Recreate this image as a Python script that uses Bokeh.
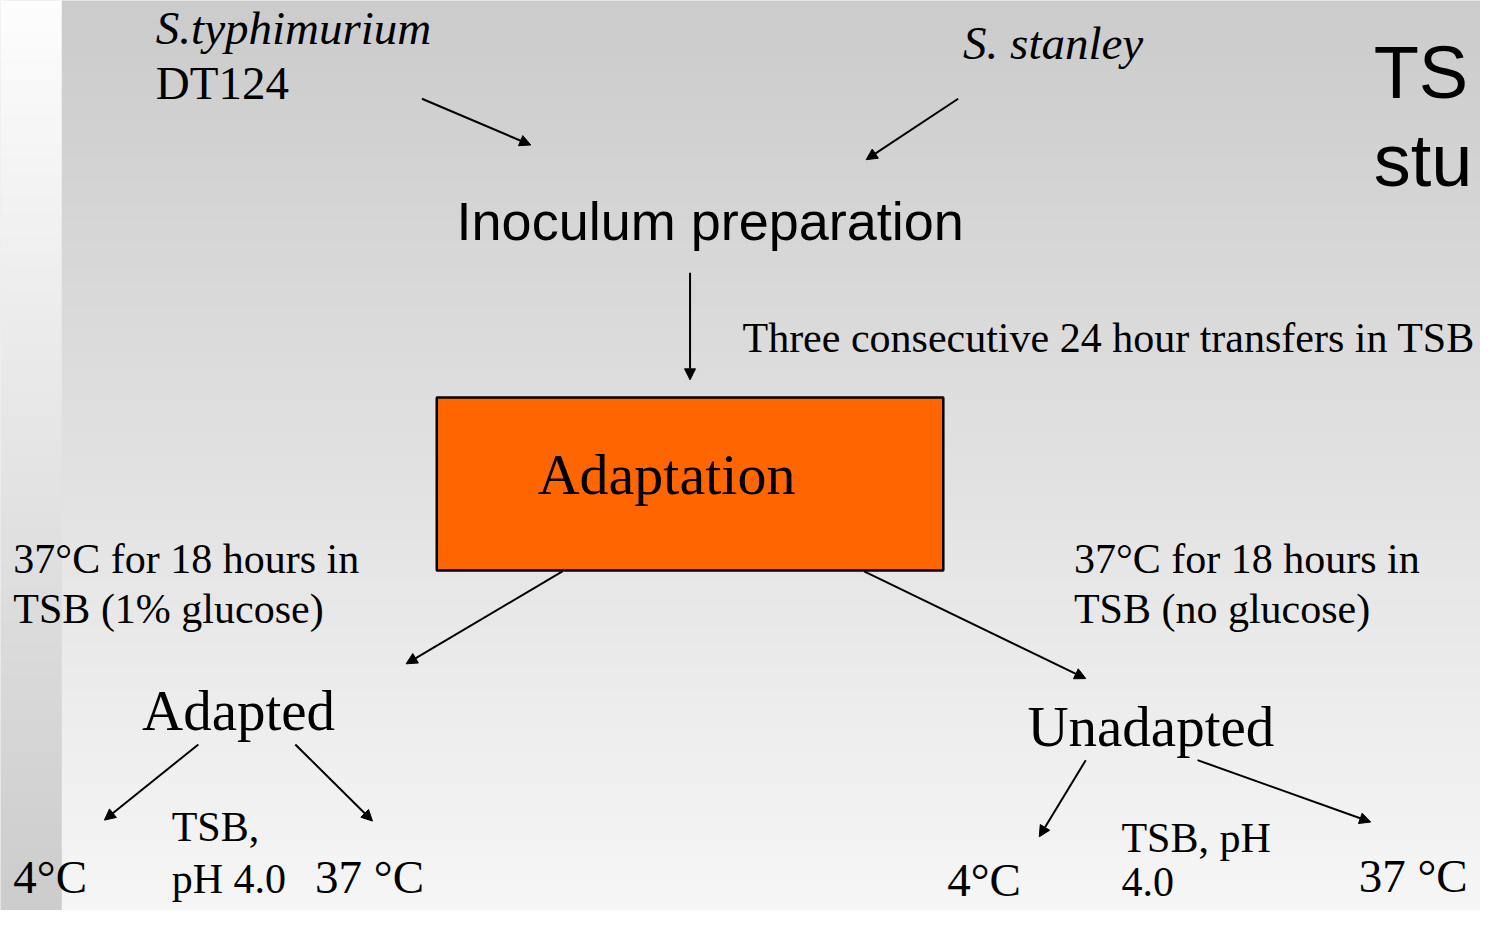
from bokeh.plotting import figure
from bokeh.models import Range1d, Arrow, NormalHead, ColumnDataSource
from bokeh.core.properties import value
from bokeh.embed import file_html
from bokeh.resources import INLINE

# ---- content -------------------------------------------------------------
species_labels = ["S.typhimurium", "S. stanley"]
strain_labels = ["DT124"]
step_labels = ["Inoculum preparation"]
box_label = ["Adaptation"]
transfer_note = ["Three consecutive 24 hour transfers in TSB"]
branch_notes_left = ["37°C for 18 hours in", "TSB (1% glucose)"]
branch_notes_right = ["37°C for 18 hours in", "TSB (no glucose)"]
group_labels = ["Adapted", "Unadapted"]
cond_adapted = ["4°C", "TSB,", "pH 4.0", "37 °C"]
cond_unadapted = ["4°C", "TSB, pH", "4.0", "37 °C"]
title_fragments = ["TS", "stu"]   # title cropped at the slide's right edge

# ---- layout (reference pixel coordinates) ---------------------------------
W, H = 1496, 926
p = figure(width=1480, height=910, x_range=Range1d(0, W), y_range=Range1d(H, 0),
           output_backend="svg", toolbar_location=None, min_border=0)
p.axis.visible = False
p.grid.visible = False
p.outline_line_color = None
p.background_fill_color = "#dddddd"
p.border_fill_color = "#ffffff"

# background gradient bands
n = 116
band = H / n
lefts, rights, tops, bottoms, cols = [], [], [], [], []
for i in range(n):
    t = (i + 0.5) / n
    y0, y1 = i * band, (i + 1) * band + 0.6
    g = int(round(253 - (253 - 204) * t))
    lefts.append(0); rights.append(62); tops.append(y0); bottoms.append(y1)
    cols.append("#%02x%02x%02x" % (g, g, g))
    g2 = int(round(203 + (246 - 203) * t))
    lefts.append(62); rights.append(W); tops.append(y0); bottoms.append(y1)
    cols.append("#%02x%02x%02x" % (g2, g2, g2))
p.quad(left=lefts, right=rights, top=tops, bottom=bottoms, fill_color=cols, line_color=None)

serif = value("Liberation Serif")
sans = value("Liberation Sans")


def txt(xs, ys, texts, size, font=serif, style="normal"):
    p.text(x=xs, y=ys, text=texts, text_font=font, text_font_size=f"{size}px",
           text_font_style=style, text_baseline="alphabetic", text_align="left",
           text_color="black", y_offset=-round(0.33 * size))


# top-right title fragments (cropped in the reference)
txt([1388, 1388], [98, 187], title_fragments, 74, font=sans)

# species
txt([157, 973], [44, 60], species_labels, 47, style="italic")
txt([157], [100], strain_labels, 47)

# inoculum preparation
txt([461], [243], step_labels, 54, font=sans)

# transfer note
txt([750], [358], transfer_note, 42)

# adaptation box
p.quad(left=[441], right=[953], top=[404], bottom=[580], fill_color="#FF6600",
       line_color="black", line_width=2.5)
txt([543], [502], box_label, 58)

# branch notes
txt([13, 13], [583, 633], branch_notes_left, 42)
txt([1085, 1085], [583, 633], branch_notes_right, 42)

# group labels
txt([143, 1038], [742, 758], group_labels, 57)

# conditions under "Adapted"
txt([13], [908], cond_adapted[0:1], 47)
txt([173, 173], [855, 908], cond_adapted[1:3], 42)
txt([318], [908], cond_adapted[3:4], 47)

# conditions under "Unadapted"
txt([957], [911], cond_unadapted[0:1], 47)
txt([1133, 1133], [866, 911], cond_unadapted[1:3], 42)
txt([1373], [907], cond_unadapted[3:4], 47)

# arrows
arrows = ColumnDataSource(dict(
    x_start=[426, 968, 697, 568, 873, 200, 298, 1097, 1210],
    y_start=[100, 100, 277, 581, 581, 757, 757, 773, 773],
    x_end=[536, 875, 697, 410, 1097, 105, 376, 1050, 1385],
    y_end=[147, 162, 386, 675, 690, 834, 835, 851, 836],
))
p.add_layout(Arrow(source=arrows, x_start="x_start", y_start="y_start",
                   x_end="x_end", y_end="y_end", line_width=2, line_color="black",
                   end=NormalHead(size=11, fill_color="black", line_color="black",
                                  line_width=1)))

open("out.html", "w").write(file_html(p, INLINE))
